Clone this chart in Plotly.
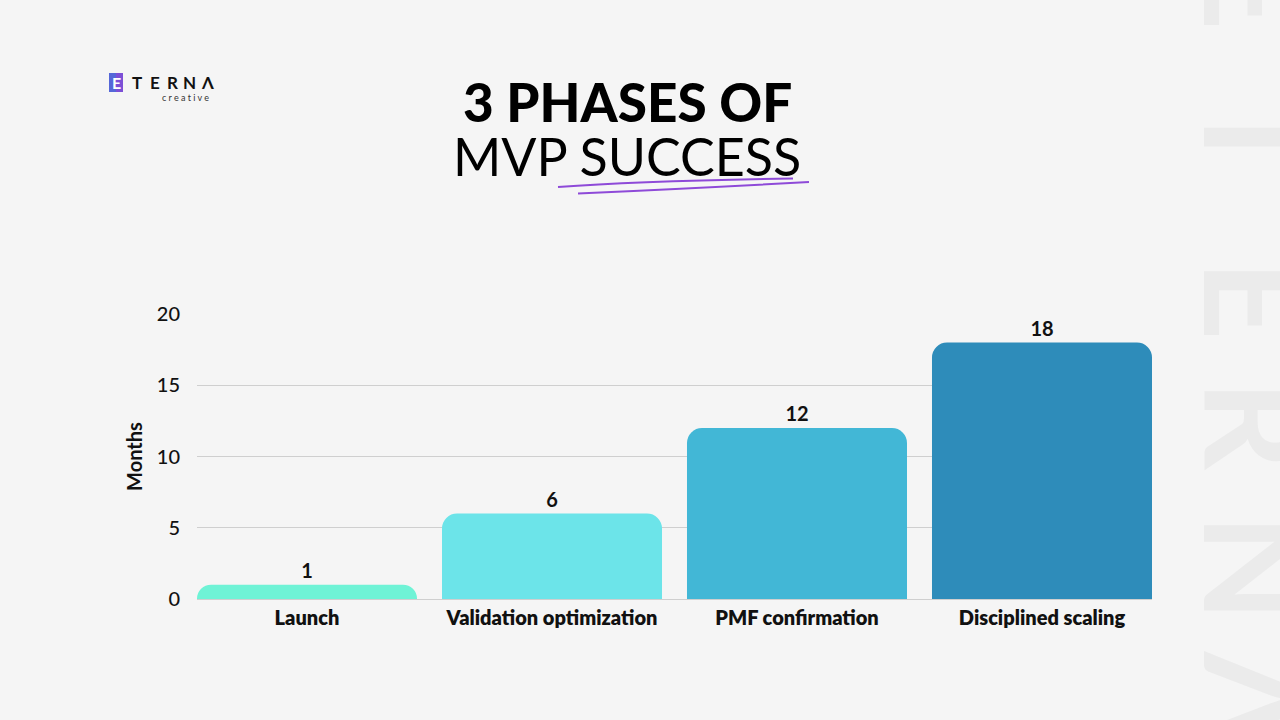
import plotly.graph_objects as go

# ---- data ----
categories = ["Launch", "Validation optimization", "PMF confirmation", "Disciplined scaling"]
months = [1, 6, 12, 18]
bar_colors = ["#6FF3D6", "#6CE4E9", "#42B7D6", "#2E8CBA"]
y_ticks = [0, 5, 10, 15, 20]

title_line1 = "3 PHASES OF"
title_line2 = "MVP SUCCESS"
y_title = "Months"
watermark_letters = ["E", "T", "E", "R", "N", "Λ"]
logo_letters = ["T", "E", "R", "N", "Λ"]

BG = "#F5F5F5"
FONT = "Lato"

# plot-area geometry (pixels)
L, R, T, B = 197, 1152, 314, 599
W, H = 1280, 720


def px(x):
    return (x - L) / (R - L)


def py(y):
    return (B - y) / (B - T)


fig = go.Figure()
fig.add_trace(go.Bar(
    x=categories,
    y=months,
    marker=dict(color=bar_colors, line=dict(width=0), cornerradius=15),
    width=0.898,
    text=[str(v) for v in months],
    textposition="outside",
    textfont=dict(family=FONT, size=20, color="#111111", weight="bold"),
    cliponaxis=False,
    hoverinfo="skip",
))

annotations = []
shapes = []

# Title
annotations.append(dict(text=title_line1, x=px(627), y=py(101), xref="paper", yref="paper",
                        showarrow=False, xanchor="center", yanchor="middle", height=50,
                        font=dict(family=FONT, size=53, color="#000000", weight=900)))
annotations.append(dict(text=title_line2, x=px(627), y=py(156), xref="paper", yref="paper",
                        showarrow=False, xanchor="center", yanchor="middle", height=50,
                        font=dict(family=FONT, size=52, color="#000000", weight=400)))

# underline strokes
shapes.append(dict(type="path", xref="paper", yref="paper",
                   path=f"M {px(558)} {py(187)} Q {px(640)} {py(181)} {px(793)} {py(178.5)}",
                   line=dict(color="#8E4AD8", width=2)))
shapes.append(dict(type="path", xref="paper", yref="paper",
                   path=f"M {px(578)} {py(193.5)} Q {px(700)} {py(188)} {px(809)} {py(182)}",
                   line=dict(color="#8E4AD8", width=2)))

# Logo
shapes.append(dict(type="rect", xref="paper", yref="paper",
                   x0=px(109), x1=px(123), y0=py(73), y1=py(92),
                   fillcolor="#5567D8", line=dict(width=0), layer="below"))
shapes.append(dict(type="rect", xref="paper", yref="paper",
                   x0=px(116), x1=px(123), y0=py(73), y1=py(92),
                   fillcolor="#7C4FD6", line=dict(width=0), layer="below"))
annotations.append(dict(text="E", x=px(116), y=py(82.5), xref="paper", yref="paper",
                        showarrow=False, xanchor="center", yanchor="middle",
                        font=dict(family=FONT, size=16, color="#FFFFFF", weight="bold")))
for i, ch in enumerate(logo_letters):
    annotations.append(dict(text=ch, x=px(137 + i * 17.5), y=py(82.5), xref="paper", yref="paper",
                            showarrow=False, xanchor="center", yanchor="middle",
                            font=dict(family=FONT, size=17, color="#111111", weight="bold")))
annotations.append(dict(text="c r e a t i v e", x=px(211), y=py(97), xref="paper", yref="paper",
                        showarrow=False, xanchor="right", yanchor="middle",
                        font=dict(family=FONT, size=9, color="#333333")))

# Watermark on right side
wm_y = [-10, 137, 300, 425, 568, 700]
for ch, yy in zip(watermark_letters, wm_y):
    annotations.append(dict(text=ch, x=px(1258), y=py(yy), xref="paper", yref="paper",
                            showarrow=False, xanchor="center", yanchor="middle", textangle=90,
                            font=dict(family=FONT, size=140, color="#EBEBEB", weight="bold")))

fig.update_layout(
    width=W, height=H,
    paper_bgcolor=BG, plot_bgcolor=BG,
    margin=dict(l=L, r=W - R, t=T, b=H - B),
    showlegend=False,
    annotations=annotations,
    shapes=shapes,
    bargap=0.102,
    xaxis=dict(
        range=[-0.449, 3.449],
        showgrid=False, showline=False, zeroline=False,
        ticks="outside", ticklen=1, tickcolor="rgba(0,0,0,0)",
        tickfont=dict(family=FONT, size=20, color="#111111", weight=800),
        fixedrange=True,
    ),
    yaxis=dict(
        range=[0, 20], tickvals=y_ticks,
        showgrid=True, gridcolor="#CFCFCF", gridwidth=1,
        zeroline=True, zerolinecolor="#CFCFCF", zerolinewidth=1,
        showline=False,
        ticks="outside", ticklen=12, tickcolor="rgba(0,0,0,0)",
        tickfont=dict(family=FONT, size=20, color="#111111", weight=500),
        title=dict(text=y_title, standoff=8,
                   font=dict(family=FONT, size=20, color="#111111", weight="bold")),
        fixedrange=True,
    ),
)

fig.write_html("out.html")
